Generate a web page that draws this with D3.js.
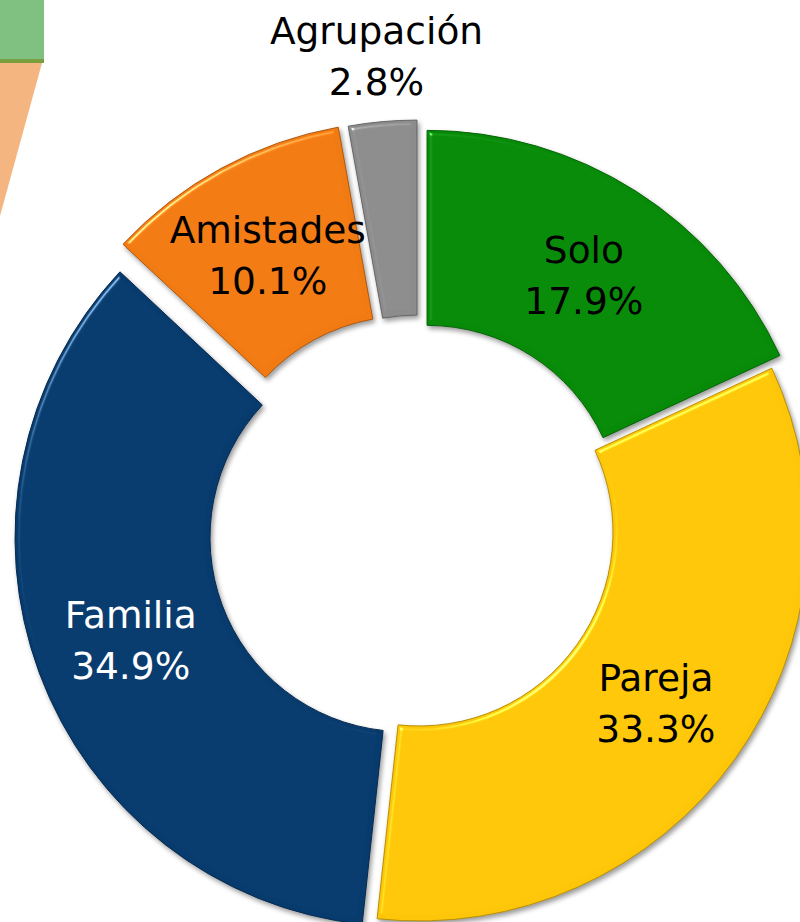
<!DOCTYPE html>
<html>
<head>
<meta charset="utf-8">
<script src="https://cdn.jsdelivr.net/npm/d3@7"></script>
<style>
  html, body { margin: 0; padding: 0; background: #fff; }
  svg { display: block; }
  .lbl { font-family: "DejaVu Sans", Verdana, sans-serif; font-size: 37.5px; }
</style>
</head>
<body>
<div id="chart"></div>
<script>
// Data
const categories = ['Solo', 'Pareja', 'Familia', 'Amistades', 'Agrupación'];
const shares = [17.9, 33.3, 34.9, 10.1, 2.8];
const colors = ['#078a08', '#fec608', '#073a6d', '#f27a12', '#8c8c8c'];
const labelColors = ['#000', '#000', '#fff', '#000', '#000'];

// how far each slice is pulled out of the ring (px)
const explode = { 'Solo': 15, 'Pareja': 0, 'Familia': 16, 'Amistades': 25, 'Agrupación': 23 };

const width = 800,
      height = 922,
      cx = 419,
      cy = 532,
      innerR = 194,
      outerR = 389;

const svg = d3.select('#chart')
  .append('svg')
  .attr('width', width)
  .attr('height', height);

// bevel + drop shadow, roughly like the office chart style
const defs = svg.append('defs');
const f = defs.append('filter')
  .attr('id', 'bevel')
  .attr('color-interpolation-filters', 'sRGB')
  .attr('x', '-10%').attr('y', '-10%')
  .attr('width', '120%').attr('height', '120%');
f.append('feGaussianBlur').attr('in', 'SourceAlpha').attr('stdDeviation', 2.5).attr('result', 'blur');
f.append('feSpecularLighting')
  .attr('in', 'blur').attr('surfaceScale', 4)
  .attr('specularConstant', 0.55).attr('specularExponent', 45)
  .attr('lighting-color', '#ffffff').attr('result', 'spec')
  .append('feDistantLight').attr('azimuth', 225).attr('elevation', 40);
f.append('feComposite').attr('in', 'spec').attr('in2', 'SourceAlpha')
  .attr('operator', 'in').attr('result', 'specIn');
f.append('feComposite').attr('in', 'SourceGraphic').attr('in2', 'specIn')
  .attr('operator', 'arithmetic').attr('k1', 0).attr('k2', 1).attr('k3', 1).attr('k4', 0)
  .attr('result', 'lit');
f.append('feGaussianBlur').attr('in', 'SourceAlpha').attr('stdDeviation', 2.5).attr('result', 'sb');
f.append('feOffset').attr('in', 'sb').attr('dx', 2).attr('dy', 3).attr('result', 'so');
f.append('feComponentTransfer').attr('in', 'so').attr('result', 'shadow')
  .append('feFuncA').attr('type', 'linear').attr('slope', 0.4);
const merge = f.append('feMerge');
merge.append('feMergeNode').attr('in', 'shadow');
merge.append('feMergeNode').attr('in', 'lit');

// leftover shapes in the top-left corner of the slide
svg.append('rect')
  .attr('x', 0).attr('y', 0).attr('width', 44).attr('height', 60)
  .attr('fill', '#80c080');
svg.append('rect')
  .attr('x', 0).attr('y', 59).attr('width', 44).attr('height', 4)
  .attr('fill', '#7a9f3e');
svg.append('polygon')
  .attr('points', '0,63 42,63 0,216')
  .attr('fill', '#f4b580');

const data = categories.map((c, i) => ({ name: c, value: shares[i], color: colors[i], text: labelColors[i] }));

const pie = d3.pie()
  .sort(null)
  .value(d => d.value);

const arc = d3.arc()
  .innerRadius(innerR)
  .outerRadius(outerR);

const labelArc = d3.arc()
  .innerRadius((innerR + outerR) / 2)
  .outerRadius((innerR + outerR) / 2);

const outsideArc = d3.arc()
  .innerRadius(479)
  .outerRadius(479);

const arcs = pie(data);

const offset = d => {
  const a = (d.startAngle + d.endAngle) / 2,
        k = explode[d.data.name] || 0;
  return [Math.sin(a) * k, -Math.cos(a) * k];
};

const g = svg.append('g')
  .attr('transform', 'translate(' + cx + ',' + cy + ')');

g.selectAll('path.slice')
  .data(arcs)
  .enter()
  .append('path')
  .attr('class', 'slice')
  .attr('transform', d => 'translate(' + offset(d) + ')')
  .attr('d', arc)
  .attr('fill', d => d.data.color)
  .attr('stroke', d => d3.color(d.data.color).darker(0.9))
  .attr('stroke-width', 1)
  .attr('filter', 'url(#bevel)');

const labels = g.selectAll('text.lbl')
  .data(arcs)
  .enter()
  .append('text')
  .attr('class', 'lbl')
  .attr('text-anchor', 'middle')
  .attr('fill', d => d.data.text)
  .attr('transform', d => {
    let p;
    if (d.data.value < 5) {
      p = outsideArc.centroid(d);
    } else {
      const o = offset(d), c = labelArc.centroid(d);
      p = [c[0] + o[0], c[1] + o[1]];
    }
    return 'translate(' + p + ')';
  });

labels.append('tspan')
  .attr('x', 0)
  .attr('y', -11)
  .text(d => d.data.name);

labels.append('tspan')
  .attr('x', 0)
  .attr('y', 40)
  .text(d => d.data.value.toFixed(1) + '%');
</script>
</body>
</html>
